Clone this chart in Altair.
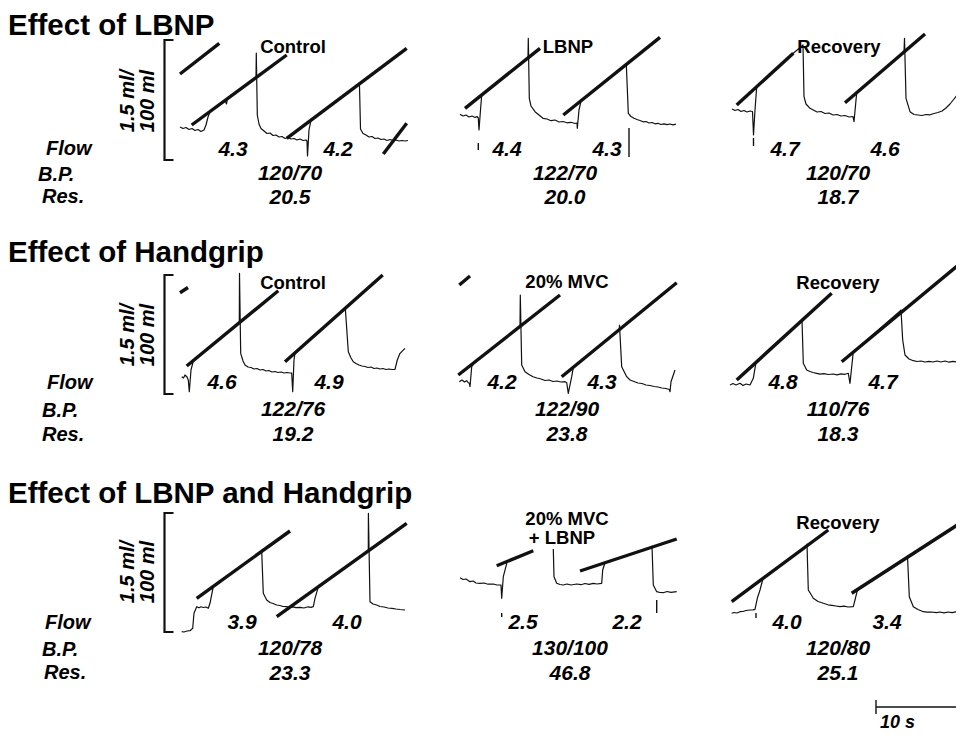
import altair as alt
import pandas as pd

# ---------------- values ----------------
section_titles = ["Effect of LBNP", "Effect of Handgrip", "Effect of LBNP and Handgrip"]
section_title_y = [35, 262, 503]

condition_labels = ["Control", "LBNP", "Recovery",
                    "Control", "20% MVC", "Recovery",
                    "20% MVC", "+ LBNP", "Recovery"]
condition_x = [293, 568, 839, 293, 567, 838, 567, 562, 838]
condition_y = [47, 47, 47, 283, 282, 283, 519, 538, 523]

flow_values = ["4.3", "4.2", "4.4", "4.3", "4.7", "4.6",
               "4.6", "4.9", "4.2", "4.3", "4.8", "4.7",
               "3.9", "4.0", "2.5", "2.2", "4.0", "3.4"]
flow_x = [233, 338, 507, 607, 785, 885,
          222, 329, 502, 602, 783, 883,
          242, 347, 523, 627, 787, 887]
flow_y = [150, 150, 150, 150, 150, 150,
          383, 383, 383, 383, 383, 383,
          623, 623, 623, 623, 623, 623]

bp_values = ["120/70", "122/70", "120/70",
             "122/76", "122/90", "110/76",
             "120/78", "130/100", "120/80"]
res_values = ["20.5", "20.0", "18.7",
              "19.2", "23.8", "18.3",
              "23.3", "46.8", "25.1"]
column_x = [290, 565, 838, 293, 567, 838, 290, 570, 838]
bp_y = [174, 174, 174, 410, 410, 410, 649, 649, 649]
res_y = [198, 198, 198, 435, 435, 435, 674, 674, 674]

row_names = ["Flow", "B.P.", "Res.", "Flow", "B.P.", "Res.", "Flow", "B.P.", "Res."]
row_name_x = [46, 38, 42, 47, 42, 42, 45, 42, 44]
row_name_y = [149, 175, 197, 383, 411, 435, 623, 650, 673]

scale_label_lines = ["1.5 ml/", "100 ml"]
scale_label_x = [128, 148]
bracket_top = [40, 275, 513]
bracket_bottom = [160, 394, 632]
bracket_mid = [101, 335, 572]

# plethysmograph traces (thin line), one list of (x, y) points per recording
trace_lbnp_control = [
    (180, 127), (183, 128.5), (186, 127.5), (189, 129.5), (192, 128.5), (195, 130.5), (198, 129.5),
    (201, 131.5), (204, 130), (206, 125), (208, 117), (210, 112),
    (225, 100), (226.5, 104), (227.5, 98.5), (256, 77.6), (256.3, 53), (257.3, 115), (259, 124),
    (261, 128.5), (264, 131), (267, 133.5), (270, 133), (273, 135.5), (276, 135), (279, 137),
    (282, 136.5), (285, 138.5), (288, 137.5), (291, 139), (294, 138.5), (297, 140), (300, 139),
    (303, 140.5), (306, 140), (307, 141), (307.5, 156), (309, 130), (311, 120.1),
    (359, 84), (359.5, 86), (360.5, 129), (363, 133.5), (366, 135), (369, 137), (372, 136.5),
    (375, 138.5), (378, 138), (381, 139.5), (384, 139), (387, 140.5), (390, 139.5), (393, 140.5),
    (396, 140), (399, 141), (402, 140.5), (405, 141), (408, 140.5)]
trace_lbnp_lbnp = [
    (460, 114.3), (463, 116), (466, 115), (469, 117), (472, 116), (475, 117.5), (477, 116.5),
    (478.3, 118), (479, 130), (480.5, 110), (481.7, 95),
    (528, 57.5), (528.3, 38.3), (529.3, 98.3), (531, 106), (535, 111.7), (539, 115), (543, 118.3),
    (547, 119), (551, 120.7), (555, 120), (559, 122), (563, 121.5), (567, 122.8), (571, 122.3),
    (575, 123.5), (577, 123), (577.3, 128.3), (579, 110), (581, 101),
    (626, 64.8), (626.3, 64), (628.3, 113.3), (631, 116.5), (634, 118.3), (637, 119.5), (640, 120.5),
    (643, 121.8), (646, 121.5), (649, 123), (652, 122.5), (655, 123.8), (658, 123.3), (661, 124.5),
    (664, 123.8), (667, 124.6), (670, 124), (673, 124.8), (676, 124.2)]
trace_lbnp_recovery = [
    (732, 109), (735, 110.5), (738, 109.5), (741, 111.5), (744, 110.5), (747, 112), (750, 111),
    (752.5, 111.5), (753.5, 135), (755, 110), (756.7, 86.7),
    (793, 53.5), (803, 45), (804, 96.7), (806, 104), (810, 108.3), (813.3, 110), (817, 112),
    (821, 111.5), (825, 113.5), (829, 113), (833, 115), (837, 114.5), (841, 116), (845, 115.5),
    (849, 117), (853, 116.5), (854, 121.7), (856.7, 92.6),
    (904, 52), (904.5, 38.3), (906, 98.3), (910, 111.7), (914, 114.5), (918, 115), (922, 115.5),
    (926, 114.5), (930, 114.8), (934, 113.5), (938, 112.5), (942, 111), (946, 108), (950, 104),
    (954, 99), (958, 94), (962, 90)]
trace_handgrip_control = [
    (181.7, 376.7), (183.5, 378), (185, 375), (187, 377), (188.3, 380), (189.3, 391.7), (191, 370),
    (193.3, 361),
    (239.3, 322.8), (239.5, 273.3), (240.7, 353.3), (243, 361), (245, 365), (248, 367), (251, 367.5),
    (254, 369), (257, 368.5), (260, 370), (263, 369.5), (266, 371), (269, 370.5), (272, 372),
    (275, 371.5), (278, 372.5), (281, 372), (284, 373), (287, 372.5), (290, 373), (291.7, 373),
    (292.7, 391.7), (294, 360), (295, 352.8),
    (345, 308.5), (345.3, 308), (348.3, 351.7), (351, 358), (353.3, 361.7), (356, 363.5), (359, 365),
    (362, 366), (365, 366.5), (368, 367.5), (371, 367), (374, 368.5), (377, 368), (380, 369),
    (383, 368.5), (386, 369.5), (389, 369), (392, 369.5), (395, 369.3), (397.3, 360), (400, 353.3),
    (405, 348.3)]
trace_handgrip_mvc = [
    (459.3, 381.7), (462, 380), (464.5, 382), (466.7, 380.7), (468, 382.5), (469.3, 383.3),
    (470, 386.7), (471.7, 366.7), (475, 361.9),
    (520, 326.5), (520.3, 295), (521.7, 365), (525, 371.7), (529, 374.5), (533, 376.7), (537, 378),
    (541, 379), (545, 380.5), (549, 380), (553, 381.5), (557, 381), (561, 382), (565, 381.7),
    (566.7, 382.7), (568.3, 393.3), (571.7, 376.7), (573.3, 367.3),
    (619.3, 329.6), (619.5, 325), (621.7, 366.7), (626.7, 376.7), (630, 380), (634, 381.5),
    (638, 383), (642, 383.5), (646, 385), (650, 385.5), (654, 386.5), (658, 387), (662, 388),
    (666, 388.5), (669.3, 389.5), (670, 391.7), (671, 381.7), (675, 370)]
trace_handgrip_recovery = [
    (730, 385), (733, 383.5), (736, 385), (740, 383.3), (743, 385.5), (746, 384), (750, 385),
    (753.3, 378.3), (756, 362.4),
    (801.7, 321), (802, 320), (803.3, 363.3), (806.7, 370), (810, 371.5), (813, 372.5),
    (816.7, 373.3), (820, 374.2), (824, 373.6), (828, 374.5), (833.3, 374), (837, 374.8),
    (841, 373.8), (845, 374.3), (848.3, 373.3), (850, 383.3), (853.3, 351.6),
    (900.7, 310.5), (901, 310), (902.7, 340), (905, 355), (909, 359), (913.3, 360.7), (917, 361.5),
    (921, 361), (925, 362), (929, 361.3), (933, 362), (937, 361), (941, 362), (945, 361),
    (949, 362.2), (953, 361.3), (957, 362), (962, 361.5)]
trace_both_control = [
    (181.7, 631.7), (184, 632), (187, 631), (190, 630.7), (192.7, 628.3), (194, 613.3),
    (196.7, 606.7), (199, 607.8), (201, 606.8), (203.3, 607.5), (206, 607), (208.3, 608.3),
    (210, 603.3), (213.3, 586.3),
    (261.7, 551.4), (263.3, 593.3), (266.7, 600), (270, 602.5), (273, 603.5), (276.7, 605),
    (280, 605.5), (283, 606.5), (286.7, 606.7), (290, 607.5), (293, 606.8), (296, 607.6),
    (300, 607.3), (304, 608), (308, 606.8), (311, 607.3), (313.3, 606.7), (315, 598.3),
    (318.3, 586.8),
    (368.3, 550.9), (368.4, 513.3), (370, 601.7), (373, 604), (376.7, 605), (380, 606.5),
    (384, 607), (388, 608), (392, 608.3), (396, 609), (400, 609.5), (405, 610)]
trace_both_mvc_a = [
    (460, 577.7), (463, 579.5), (466, 579), (470, 581.7), (473, 581), (476, 583), (480, 583.3),
    (484, 583), (488, 584.2), (493.3, 584), (497, 585), (501, 585), (501.7, 598.3), (503.3, 576.7),
    (507.3, 561.4), (530, 552.1)]
trace_both_mvc_b = [
    (553.3, 549), (554, 576.7), (556.7, 583.3), (560, 584.5), (563.3, 585), (567, 584), (571, 585),
    (576.7, 584), (581, 584.7), (585, 583.5), (589, 584.3), (593.3, 583.3), (597, 584),
    (601.7, 583.3), (602.7, 570), (605, 562.7),
    (651.7, 547.6), (652, 546), (653.3, 585), (656.7, 591.7), (660, 592.5), (663.3, 592.7),
    (667, 591.5), (671, 592.3), (676.7, 591.7)]
trace_both_recovery = [
    (731.7, 613.3), (734, 612.5), (737, 613), (740, 611.7), (743, 611.5), (746, 610.5), (750, 610),
    (753, 609.8), (755, 609.3), (757.3, 598.3), (760, 590), (763, 578.5),
    (806.7, 546), (807, 544), (808.3, 590), (813.3, 598.3), (818, 601.5), (823.3, 603.3),
    (828, 604.8), (832, 605.3), (836, 606), (840, 606.7), (844, 606.2), (848, 607), (853.3, 606.7),
    (855, 600), (857.5, 589.6),
    (907.3, 557.7), (907.5, 556), (909.3, 596.7), (913.3, 606.7), (918, 609.5), (923.3, 611.7),
    (927, 612.2), (931, 612), (936.7, 612.7), (940, 612), (944, 612.8), (948, 612), (952, 612.6),
    (956, 611.8), (962, 612.3)]

# fitted slopes (thick straight lines): x1, y1, x2, y2
slope_lines = [
    (180, 74, 219.3, 43.3), (191.7, 125, 286.7, 55), (286.7, 138.3, 406.7, 48.3),
    (383.3, 154, 406.7, 123.3), (465, 108.3, 540, 48.3), (563.3, 115, 660, 37.3),
    (736.7, 105, 793.3, 53.3), (845, 102.7, 925, 34),
    (180, 292.7, 188, 287.5), (186.7, 366, 278.3, 290.7), (285, 361.7, 382.7, 275),
    (459.3, 285, 470, 276), (458.3, 375, 560, 295), (561.7, 376.7, 676.7, 282.7),
    (736.7, 380, 831.7, 293.3), (841.7, 361.7, 962, 262),
    (196.7, 598.3, 290, 531), (276.7, 616.7, 406.7, 523.3), (496.7, 565.7, 533.3, 550.7),
    (580, 571, 676.7, 539), (731.7, 601.7, 828.3, 530), (851.7, 593.3, 962, 522)]

# short vertical marker ticks below traces: x, y_top, y_bottom
marker_ticks = [(478.3, 143, 150), (629, 128, 157), (753.5, 138, 146),
                (501.7, 613, 617), (656.7, 600, 613), (756, 613, 618)]

time_bar = {"x_start": 876, "x_end": 962, "y": 707, "tick_top": 700, "tick_bottom": 714, "label": "10 s"}

# ---------------- build tables ----------------
traces = {
    "lbnp_control": trace_lbnp_control, "lbnp_lbnp": trace_lbnp_lbnp,
    "lbnp_recovery": trace_lbnp_recovery, "hg_control": trace_handgrip_control,
    "hg_mvc": trace_handgrip_mvc, "hg_recovery": trace_handgrip_recovery,
    "both_control": trace_both_control, "both_mvc_a": trace_both_mvc_a,
    "both_mvc_b": trace_both_mvc_b, "both_recovery": trace_both_recovery,
}
trace_rows = []
for name, pts in traces.items():
    for i, (x, y) in enumerate(pts):
        trace_rows.append({"panel": name, "i": i, "x": x, "y": y})
trace_df = pd.DataFrame(trace_rows)

slope_df = pd.DataFrame(slope_lines, columns=["x", "y", "x2", "y2"])

rule_rows = [{"x": x, "y": a, "x2": x, "y2": b} for x, a, b in marker_ticks]
rule_rows.append({"x": time_bar["x_start"], "y": time_bar["y"], "x2": time_bar["x_end"], "y2": time_bar["y"]})
rule_rows.append({"x": time_bar["x_start"], "y": time_bar["tick_top"], "x2": time_bar["x_start"], "y2": time_bar["tick_bottom"]})
thin_rule_df = pd.DataFrame(rule_rows)

bracket_rows = []
for k, (t, b) in enumerate(zip(bracket_top, bracket_bottom)):
    for i, (x, y) in enumerate([(173.5, t), (164.5, t), (164.5, b), (173.5, b)]):
        bracket_rows.append({"b": k, "i": i, "x": x, "y": y})
bracket_df = pd.DataFrame(bracket_rows)

title_df = pd.DataFrame({"text": section_titles, "x": [8, 8, 8], "y": section_title_y})
cond_df = pd.DataFrame({"text": condition_labels, "x": condition_x, "y": condition_y})
num_df = pd.DataFrame({
    "text": flow_values + bp_values + res_values,
    "x": flow_x + column_x + column_x,
    "y": flow_y + bp_y + res_y,
})
rowname_df = pd.DataFrame({"text": row_names, "x": row_name_x, "y": row_name_y})
rot_rows = []
for m in bracket_mid:
    for t, x in zip(scale_label_lines, scale_label_x):
        rot_rows.append({"text": t, "x": x, "y": m})
rot_df = pd.DataFrame(rot_rows)
bar_label_df = pd.DataFrame({"text": [time_bar["label"]], "x": [880], "y": [723]})

# ---------------- chart ----------------
XS = alt.Scale(domain=[8, 956], nice=False, zero=False)
YS = alt.Scale(domain=[8, 734], nice=False, zero=False, reverse=True)
FONT = "Liberation Sans"
INK = "#111111"


def X():
    return alt.X("x:Q", scale=XS, axis=None)


def Y():
    return alt.Y("y:Q", scale=YS, axis=None)


trace_layer = alt.Chart(trace_df).mark_line(
    color=INK, strokeWidth=1.2, strokeJoin="round"
).encode(x=X(), y=Y(), detail="panel:N", order="i:Q")

slope_layer = alt.Chart(slope_df).mark_rule(
    color=INK, strokeWidth=3.4, strokeCap="butt"
).encode(x=X(), y=Y(), x2="x2:Q", y2="y2:Q")

thin_rule_layer = alt.Chart(thin_rule_df).mark_rule(
    color=INK, strokeWidth=1.4
).encode(x=X(), y=Y(), x2="x2:Q", y2="y2:Q")

bracket_layer = alt.Chart(bracket_df).mark_line(
    color=INK, strokeWidth=2.2, strokeJoin="miter"
).encode(x=X(), y=Y(), detail="b:N", order="i:Q")

title_layer = alt.Chart(title_df).mark_text(
    font=FONT, fontWeight="bold", fontSize=29.5, align="left", baseline="alphabetic", color="#000"
).encode(x=X(), y=Y(), text="text:N")

cond_layer = alt.Chart(cond_df).mark_text(
    font=FONT, fontWeight="bold", fontSize=18.5, align="center", baseline="middle", color="#000"
).encode(x=X(), y=Y(), text="text:N")

num_layer = alt.Chart(num_df).mark_text(
    font=FONT, fontWeight="bold", fontStyle="italic", fontSize=21, align="center",
    baseline="middle", color="#000"
).encode(x=X(), y=Y(), text="text:N")

rowname_layer = alt.Chart(rowname_df).mark_text(
    font=FONT, fontWeight="bold", fontStyle="italic", fontSize=20, align="left",
    baseline="middle", color="#000"
).encode(x=X(), y=Y(), text="text:N")

rot_layer = alt.Chart(rot_df).mark_text(
    font=FONT, fontWeight="bold", fontStyle="italic", fontSize=20, align="center",
    baseline="middle", angle=270, color="#000"
).encode(x=X(), y=Y(), text="text:N")

bar_label_layer = alt.Chart(bar_label_df).mark_text(
    font=FONT, fontWeight="bold", fontStyle="italic", fontSize=18, align="left",
    baseline="middle", color="#000"
).encode(x=X(), y=Y(), text="text:N")

chart = alt.layer(
    trace_layer, slope_layer, thin_rule_layer, bracket_layer,
    title_layer, cond_layer, num_layer, rowname_layer, rot_layer, bar_label_layer,
).properties(
    width=948, height=726, autosize=alt.AutoSizeParams(type="none"), padding=0,
    background="white",
).configure_view(stroke=None)

chart.save("out.html", embed_options={"renderer": "svg", "actions": False})
